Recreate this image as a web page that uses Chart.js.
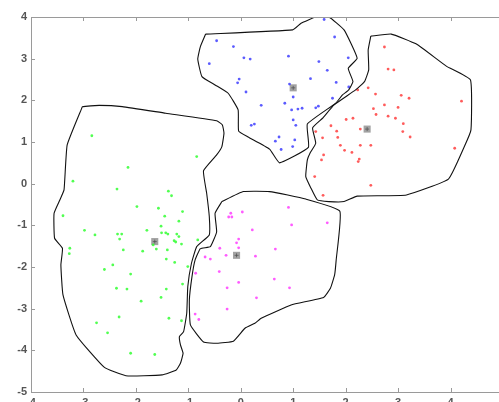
<!DOCTYPE html>
<html>
<head>
<meta charset="utf-8">
<script src="https://cdn.jsdelivr.net/npm/chart.js@4.4.0/dist/chart.umd.min.js"></script>
<style>
  html, body { margin: 0; padding: 0; background: #fff; overflow: hidden; }
  #wrap { position: absolute; left: 0; top: 0; width: 510px; height: 420px; }
</style>
</head>
<body>
<div id="wrap"><canvas id="cluster" width="510" height="420"></canvas></div>
<script>
// axis ranges / ticks
var xRange = [-4, 5]
var yRange = [-5, 4]

// cluster points [x, y]
var bluePts = [[1.59,3.94],[1.79,3.52],[-0.46,3.43],[-0.14,3.29],[0.06,3.02],[0.18,2.99],[0.91,3.06],[2.05,3.02],
  [1.49,2.93],[-0.60,2.88],[1.65,2.72],[-0.03,2.51],[-0.06,2.42],[1.33,2.52],[1.82,2.43],[0.93,2.39],[2.06,2.32],
  [0.10,2.20],[1.00,2.08],[1.75,2.05],[0.84,1.93],[0.39,1.88],[0.97,1.77],[1.09,1.79],[1.17,1.81],[1.43,1.82],
  [1.48,1.86],[1.00,1.53],[1.05,1.40],[0.20,1.40],[0.26,1.43],[0.73,1.12],[0.66,1.02],[1.03,1.05],[0.99,0.89],[0.77,0.82]]
var redPts = [[2.74,3.28],[2.81,2.75],[2.92,2.73],[2.23,2.25],[2.43,2.30],[2.57,2.15],[3.06,2.12],[3.21,2.05],
  [4.21,1.98],[2.74,1.89],[2.53,1.80],[3.00,1.83],[2.58,1.66],[2.81,1.62],[2.95,1.57],[2.14,1.57],[2.01,1.54],
  [3.10,1.44],[1.72,1.39],[2.28,1.31],[1.83,1.26],[1.43,1.25],[3.09,1.25],[3.23,1.12],[1.56,1.10],[1.85,1.11],
  [1.90,0.92],[2.28,0.92],[2.48,0.92],[1.98,0.80],[2.12,0.75],[4.08,0.85],[1.58,0.69],[1.54,0.57],[2.26,0.59],
  [2.24,0.53],[1.41,0.17],[2.48,-0.04],[1.57,-0.28]]
var greenPts = [[-2.84,1.15],[-0.84,0.65],[-2.15,0.39],[-3.20,0.06],[-2.36,-0.13],[-1.38,-0.18],[-1.32,-0.29],
  [-1.98,-0.55],[-1.57,-0.59],[-1.11,-0.67],[-3.39,-0.77],[-1.45,-0.78],[-1.18,-0.90],[-1.52,-1.02],[-2.98,-1.12],
  [-1.79,-1.12],[-2.78,-1.23],[-2.35,-1.21],[-2.27,-1.21],[-1.51,-1.18],[-1.43,-1.18],[-1.39,-1.21],[-1.22,-1.21],
  [-1.18,-1.27],[-2.31,-1.33],[-1.27,-1.37],[-1.24,-1.40],[-0.82,-1.35],[-1.13,-1.45],[-1.67,-1.47],[-3.26,-1.55],
  [-3.27,-1.68],[-2.24,-1.59],[-1.87,-1.62],[-1.61,-1.57],[-1.40,-1.59],[-1.42,-1.81],[-1.26,-1.89],[-2.44,-1.95],
  [-2.60,-2.06],[-1.01,-1.99],[-2.10,-2.17],[-1.11,-2.41],[-2.37,-2.51],[-2.17,-2.53],[-1.42,-2.53],[-1.52,-2.73],
  [-1.90,-2.82],[-2.32,-3.20],[-1.37,-3.23],[-2.75,-3.34],[-1.13,-3.29],[-2.54,-3.58],[-2.10,-4.07],[-1.64,-4.10]]
var magentaPts = [[0.91,-0.57],[0.03,-0.68],[-0.19,-0.71],[-0.23,-0.80],[-0.17,-0.80],[1.65,-0.94],[0.97,-0.99],
  [0.22,-1.11],[-0.04,-1.33],[-0.08,-1.42],[-0.04,-1.54],[-0.40,-1.55],[0.66,-1.57],[-0.28,-1.72],[0.28,-1.74],
  [-0.68,-1.76],[-0.58,-1.81],[-0.41,-2.11],[-0.86,-2.15],[0.64,-2.29],[-0.04,-2.37],[-0.26,-2.50],[0.93,-2.50],
  [0.30,-2.74],[-0.26,-3.01],[-0.87,-3.13],[-0.80,-3.26]]

// cluster centres
var centres = [[1.00,2.30],[2.41,1.31],[-1.64,-1.39],[-0.08,-1.72]]

// hand drawn outlines round each cluster
var blueHull = [[-0.67,3.59],[0.99,3.69],[1.15,3.85],[1.43,4.0],[1.68,4.0],[1.97,3.69],[2.22,3.01],[2.05,2.77],
  [2.14,2.45],[2.06,2.25],[1.94,2.13],[1.81,1.93],[1.27,1.43],[1.29,0.87],[0.74,0.50],[0.55,0.83],[0.14,1.12],
  [-0.04,1.26],[-0.05,1.77],[-0.24,2.17],[-0.49,2.37],[-0.74,2.57],[-0.82,2.99],[-0.77,3.29],[-0.67,3.59]]
var redHull = [[2.48,3.54],[2.87,3.59],[3.35,3.35],[3.92,2.82],[4.38,2.49],[4.39,1.29],[4.26,0.88],[3.96,0.11],
  [3.16,-0.27],[2.22,-0.30],[1.97,-0.43],[1.68,-0.43],[1.46,-0.39],[1.34,-0.11],[1.24,0.17],[1.27,0.57],[1.32,0.73],
  [1.43,0.97],[1.37,1.34],[1.56,1.57],[1.78,1.89],[2.19,2.25],[2.36,2.45],[2.44,2.73],[2.43,3.21],[2.48,3.54]]
var greenHull = [[-3.02,1.85],[-2.70,1.88],[-2.26,1.85],[-1.43,1.69],[-0.46,1.51],[-0.35,1.41],[-0.32,1.21],
  [-0.36,0.89],[-0.46,0.69],[-0.71,0.31],[-0.65,-0.23],[-0.60,-0.79],[-0.60,-1.23],[-0.84,-1.51],[-0.94,-1.91],
  [-1.01,-2.47],[-1.03,-3.11],[-1.09,-3.55],[-1.17,-3.67],[-1.15,-3.87],[-1.10,-4.07],[-1.15,-4.31],[-1.23,-4.47],
  [-1.50,-4.59],[-2.19,-4.61],[-2.60,-4.41],[-3.14,-3.63],[-3.39,-2.67],[-3.43,-1.95],[-3.40,-1.55],[-3.55,-1.31],
  [-3.56,-0.71],[-3.45,-0.39],[-3.37,-0.15],[-3.31,0.93],[-3.02,1.85]]
var magentaHull = [[-0.36,-0.43],[0.05,-0.19],[0.55,-0.19],[1.24,-0.37],[1.89,-0.66],[1.82,-1.83],[1.79,-2.19],
  [1.71,-2.51],[1.58,-2.73],[0.96,-2.91],[0.39,-3.23],[0.27,-3.35],[0.08,-3.47],[-0.14,-3.78],[-0.46,-3.83],
  [-0.71,-3.80],[-0.96,-3.39],[-0.98,-2.79],[-0.93,-2.23],[-0.87,-1.83],[-0.77,-1.56],[-0.58,-1.51],[-0.46,-1.16],
  [-0.49,-0.71],[-0.36,-0.43]]

const toXY = (arr) => arr.map((p) => ({x: p[0], y: p[1]}))

function hullSet(arr){
    return {
        data: toXY(arr),
        showLine: true,
        borderColor: "#111",
        borderWidth: 1.1,
        pointRadius: 0,
        tension: 0.12,
        fill: false
    }
}

function pointSet(arr, col){
    return {
        data: toXY(arr),
        showLine: false,
        pointStyle: "circle",
        pointRadius: 1.4,
        borderWidth: 0,
        backgroundColor: col
    }
}

// MATLAB style box: grey axis lines with inward ticks
const boxPlugin = {
    id: "box",
    afterDraw(chart){
        let ctx = chart.ctx
        let a = chart.chartArea
        let xs = chart.scales.x
        let ys = chart.scales.y
        ctx.save()
        ctx.strokeStyle = "#9a9a9a"
        ctx.lineWidth = 1
        ctx.beginPath()
        ctx.moveTo(a.left + 0.5, a.top + 0.5)
        ctx.lineTo(a.right, a.top + 0.5)
        ctx.moveTo(a.left + 0.5, a.top)
        ctx.lineTo(a.left + 0.5, a.bottom + 0.5)
        ctx.lineTo(a.right, a.bottom + 0.5)
        for(let v = xRange[0]; v <= xRange[1]; v++){
            let px = Math.round(xs.getPixelForValue(v)) + 0.5
            ctx.moveTo(px, a.top); ctx.lineTo(px, a.top + 4)
            ctx.moveTo(px, a.bottom); ctx.lineTo(px, a.bottom - 4)
        }
        for(let v = yRange[0]; v <= yRange[1]; v++){
            let py = Math.round(ys.getPixelForValue(v)) + 0.5
            ctx.moveTo(a.left, py); ctx.lineTo(a.left + 4, py)
        }
        ctx.stroke()
        ctx.restore()
    }
}

var tickFont = {family: "'Liberation Sans', Arial, sans-serif", size: 11, weight: "bold"}

new Chart(document.getElementById("cluster").getContext("2d"), {
    type: "scatter",
    data: {
        datasets: [
            hullSet(blueHull),
            hullSet(redHull),
            hullSet(greenHull),
            hullSet(magentaHull),
            pointSet(bluePts, "rgba(50,50,255,0.8)"),
            pointSet(redPts, "rgba(255,50,50,0.8)"),
            pointSet(greenPts, "rgba(50,255,50,0.85)"),
            pointSet(magentaPts, "rgba(255,50,255,0.8)"),
            {
                data: toXY(centres),
                pointStyle: "rect",
                pointRadius: 5,
                borderWidth: 0,
                backgroundColor: "rgba(100,100,100,0.6)"
            },
            {
                data: toXY(centres),
                pointStyle: "cross",
                pointRadius: 2,
                borderWidth: 1,
                borderColor: "rgba(40,40,40,0.7)"
            }
        ]
    },
    options: {
        responsive: false,
        animation: false,
        devicePixelRatio: 1,
        layout: {padding: {left: 0, top: 17, right: 3, bottom: 0}},
        plugins: {legend: {display: false}, tooltip: {enabled: false}},
        scales: {
            x: {
                type: "linear",
                min: xRange[0], max: xRange[1],
                afterFit: (s) => { s.height = 28 },
                grid: {display: true, drawOnChartArea: false, drawTicks: false},
                border: {display: false},
                ticks: {stepSize: 1, padding: 4, color: "#555", font: tickFont}
            },
            y: {
                type: "linear",
                min: yRange[0], max: yRange[1],
                afterFit: (s) => { s.width = 31 },
                grid: {display: true, drawOnChartArea: false, drawTicks: false},
                border: {display: false},
                ticks: {stepSize: 1, padding: 4, color: "#555", font: tickFont}
            }
        }
    },
    plugins: [boxPlugin]
})
</script>
</body>
</html>
